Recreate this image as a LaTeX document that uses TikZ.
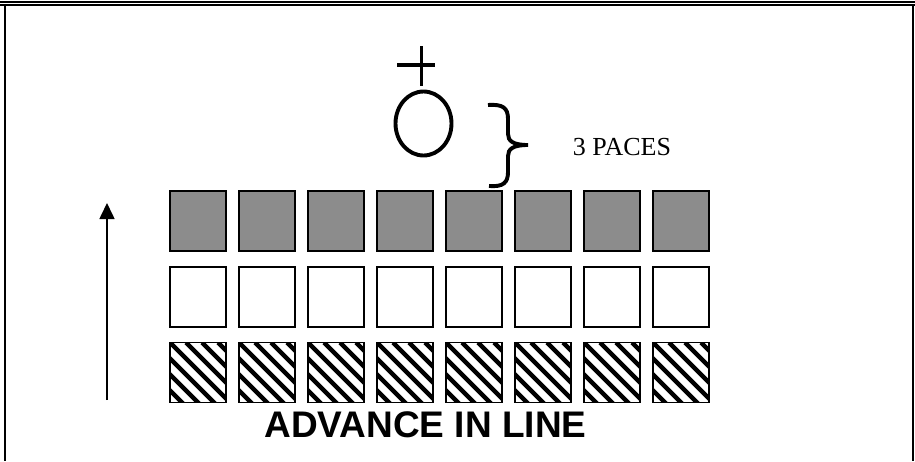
\documentclass[tikz,border=0pt]{standalone}
\usepackage{fontspec}
\setmainfont{Liberation Serif}
\newfontfamily\arialfont{Liberation Sans}
\usetikzlibrary{arrows.meta, shapes.geometric}
\begin{document}
\begin{tikzpicture}[x=1pt, y=-1pt,
        sqbox/.style    = {rectangle, draw, line width=1.7pt,
                           minimum width=56pt, minimum height=60pt,
                           inner sep=0pt},
        graybox/.style  = {sqbox, fill=black!45},
        hatchbox/.style = {sqbox, path picture={
                             \foreach \k in {-6,...,6}
                               \draw[line width=4.4pt]
                                 ([xshift=\k*16pt]path picture bounding box.north west)
                                 -- ++(80pt,-80pt);}},
        frame/.style    = {line width=1.8pt},
        bold/.style     = {line width=3.9pt}
    ]
        \useasboundingbox (0,0) rectangle (915,461);

        % page frame
        \draw[frame] (0,1.8) -- (915,1.8);
        \draw[frame] (0,4.9) -- (915,4.9);
        \draw[frame] (5,4.9) -- (5,461);
        \draw[frame] (913,4.9) -- (913,461);

        % leader
        \node[ellipse, draw, bold, minimum width=56pt, minimum height=64pt,
              inner sep=0pt] (head) at (423.5,123.5) {};
        \coordinate (crosstop) at (421.5,46);
        \coordinate (crossbot) at (421.5,86);
        \coordinate (crossl) at (397,65);
        \coordinate (crossr) at (435,65);
        \draw[bold] (crosstop) -- (crossbot);
        \draw[bold] (crossl) -- (crossr);

        % distance brace
        \draw[bold]
            (488,105) .. controls (503,104) and (508,108) .. (508,119)
            -- (508,134) .. controls (508,141) and (513,145) .. (528,145)
            .. controls (513,145) and (508,149) .. (508,156)
            -- (508,172) .. controls (508,183) and (503,187) .. (489,186);
        \node[font=\fontsize{26}{30}\selectfont] (paces) at (622,147) {3 PACES};

        % ranks
        \foreach \i in {1,...,8} {
            \node[graybox]  (g\i) at ({198+69*(\i-1)},221) {};
            \node[sqbox]    (w\i) at ({198+69*(\i-1)},297) {};
            \node[hatchbox] (h\i) at ({198+69*(\i-1)},372.5) {};
        }

        % direction of advance
        \coordinate (advfrom) at (107,400);
        \coordinate (advto) at (107,203);
        \draw[-{Triangle[width=15pt, length=16pt]}, line width=1.6pt]
            (advfrom) -- (advto);

        \node[font=\arialfont\bfseries\fontsize{37}{42}\selectfont]
            (caption) at (425.5,425) {ADVANCE IN LINE};
    \end{tikzpicture}
\end{document}
